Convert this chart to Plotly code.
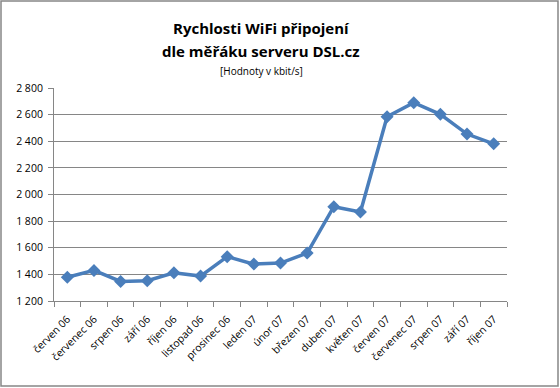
import plotly.graph_objects as go

months = ["červen 06", "červenec 06", "srpen 06", "září 06", "říjen 06", "listopad 06",
          "prosinec 06", "leden 07", "únor 07", "březen 07", "duben 07", "květen 07",
          "červen 07", "červenec 07", "srpen 07", "září 07", "říjen 07"]
speed = [1378, 1430, 1347, 1352, 1412, 1387, 1533, 1477, 1485, 1560, 1908, 1868,
         2584, 2690, 2602, 2454, 2381]
y_ticks = [1200, 1400, 1600, 1800, 2000, 2200, 2400, 2600, 2800]

W, H = 560, 388
L, R, T, B = 54, 53, 88, 87
pw, ph = W - L - R, H - T - B
CX = 261

fig = go.Figure()
fig.add_trace(go.Scatter(
    x=months, y=speed, mode="lines+markers",
    line=dict(color="#4A7EBB", width=3.5),
    marker=dict(symbol="diamond", size=10, color="#4A7EBB"),
    cliponaxis=False,
))

fig.update_layout(
    width=W, height=H,
    margin=dict(l=L, r=R, t=T, b=B),
    paper_bgcolor="white", plot_bgcolor="white",
    separators=", ",
    showlegend=False,
    font=dict(family="Open Sans, Liberation Sans, sans-serif", color="#000000"),
    xaxis=dict(
        type="category", range=[-0.5, len(months) - 0.5],
        tickson="boundaries", ticks="outside", ticklen=5, tickcolor="#868686",
        showline=True, linecolor="#868686", linewidth=1,
        showgrid=False, tickangle=-45, ticklabelstandoff=7,
        tickfont=dict(size=10.5, family="Open Sans, sans-serif"),
    ),
    yaxis=dict(
        range=[1200, 2800], tickvals=y_ticks, tickformat=",d",
        ticks="outside", ticklen=5, tickcolor="#868686",
        showline=True, linecolor="#868686", linewidth=1,
        showgrid=True, gridcolor="#868686", gridwidth=1,
        ticklabelstandoff=3,
        tickfont=dict(size=10.5, family="Open Sans, sans-serif"),
        zeroline=False,
    ),
    shapes=[dict(
        type="rect", xref="paper", yref="paper",
        x0=(1 - L) / pw, x1=(558 - L) / pw,
        y0=(H - 386 - B) / ph, y1=(H - 1 - B) / ph,
        line=dict(color="#868686", width=1.5), layer="below",
    )],
    annotations=[
        dict(text="<b>Rychlosti WiFi připojení</b>", xref="paper", yref="paper",
             x=(CX - L) / pw, y=(H - 28 - B) / ph, xanchor="center", yanchor="middle",
             showarrow=False, font=dict(size=15, family="Open Sans, sans-serif")),
        dict(text="<b>dle měřáku serveru DSL.cz</b>", xref="paper", yref="paper",
             x=(CX - L) / pw, y=(H - 51 - B) / ph, xanchor="center", yanchor="middle",
             showarrow=False, font=dict(size=15, family="Open Sans, sans-serif")),
        dict(text="[Hodnoty v kbit/s]", xref="paper", yref="paper",
             x=(CX - L) / pw, y=(H - 71 - B) / ph, xanchor="center", yanchor="middle",
             showarrow=False, font=dict(size=10, family="Open Sans, sans-serif")),
    ],
)

fig.write_html("out.html")
